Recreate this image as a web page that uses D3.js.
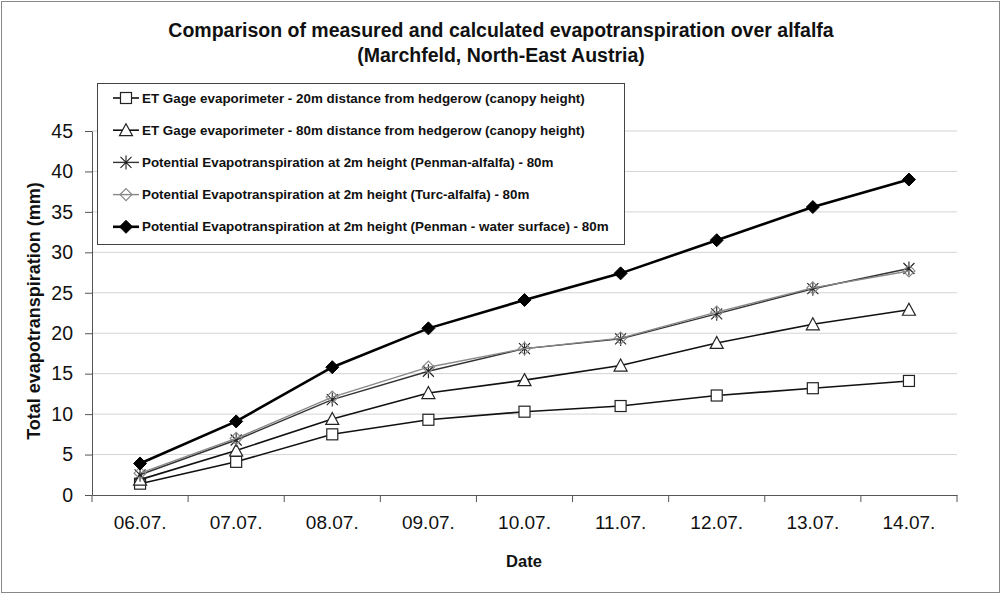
<!DOCTYPE html>
<html><head><meta charset="utf-8">
<script src="https://cdn.jsdelivr.net/npm/d3@7"></script>
<style>body{margin:0;background:#fff;} svg{display:block;font-family:Arial,"Liberation Sans",sans-serif;}</style>
</head><body>
<script>
const categories = ["06.07.","07.07.","08.07.","09.07.","10.07.","11.07.","12.07.","13.07.","14.07."];
const gage20 = [1.4, 4.1, 7.5, 9.3, 10.3, 11.0, 12.3, 13.2, 14.1];
const gage80 = [1.9, 5.5, 9.4, 12.6, 14.2, 16.0, 18.8, 21.1, 22.9];
const penmanAlfalfa = [2.5, 6.8, 11.8, 15.3, 18.1, 19.3, 22.4, 25.5, 28.0];
const turcAlfalfa = [2.7, 7.0, 12.1, 15.8, 18.1, 19.4, 22.6, 25.6, 27.7];
const penmanWater = [3.9, 9.1, 15.8, 20.6, 24.1, 27.4, 31.5, 35.6, 39.0];
const yTicks = [0,5,10,15,20,25,30,35,40,45];
const seriesNames = [
 "ET Gage evaporimeter - 20m distance from hedgerow (canopy height)",
 "ET Gage evaporimeter - 80m distance from hedgerow (canopy height)",
 "Potential Evapotranspiration at 2m height (Penman-alfalfa) - 80m",
 "Potential Evapotranspiration at 2m height (Turc-alfalfa) - 80m",
 "Potential Evapotranspiration at 2m height (Penman - water surface) - 80m"
];
const series = [
 {name: seriesNames[0], values: gage20, marker: "square", color: "#111", width: 1.6},
 {name: seriesNames[1], values: gage80, marker: "triangle", color: "#111", width: 1.6},
 {name: seriesNames[2], values: penmanAlfalfa, marker: "asterisk", color: "#333", width: 1.4},
 {name: seriesNames[3], values: turcAlfalfa, marker: "diamondOpen", color: "#888", width: 1.4},
 {name: seriesNames[4], values: penmanWater, marker: "diamondFilled", color: "#000", width: 2.6}
];

const W = 1002, H = 596;
const svg = d3.select("body").append("svg").attr("width", W).attr("height", H);
svg.append("rect").attr("x",1.5).attr("y",1.5).attr("width",998).attr("height",591)
  .attr("fill","#fff").attr("stroke","#888").attr("stroke-width",1);

const L = 92, R = 957, T = 131, B = 495;
const x = d3.scaleBand().domain(categories).range([L, R]).padding(0);
const y = d3.scaleLinear().domain([0,45]).range([B, T]);
const cx = c => x(c) + x.bandwidth()/2;

// gridlines
svg.append("g").selectAll("line").data(yTicks.filter(d=>d>0)).join("line")
  .attr("x1", L).attr("x2", R).attr("y1", d=>y(d)).attr("y2", d=>y(d))
  .attr("stroke", "#d4d4d4").attr("stroke-width", 1);

// y axis
const yAxis = svg.append("g").attr("transform", `translate(${L},0)`)
  .call(d3.axisLeft(y).tickValues(yTicks).tickSize(7).tickPadding(12).tickSizeOuter(0));
yAxis.select(".domain").attr("stroke","#555");
yAxis.selectAll(".tick line").attr("stroke","#555");
yAxis.selectAll("text").attr("font-size", 19.5).attr("fill","#111").attr("font-family","Arial, 'Liberation Sans', sans-serif");

// x axis
const xAxis = svg.append("g").attr("transform", `translate(0,${B})`)
  .call(d3.axisBottom(x).tickSize(0).tickPadding(21));
xAxis.select(".domain").attr("stroke","#555");
xAxis.selectAll("text").attr("font-size", 19).attr("fill","#111").attr("font-family","Arial, 'Liberation Sans', sans-serif");
svg.append("g").selectAll("line").data(categories.concat(["_end"])).join("line")
  .attr("x1", (d,i)=> L + i*x.bandwidth()).attr("x2", (d,i)=> L + i*x.bandwidth())
  .attr("y1", B).attr("y2", B+7).attr("stroke","#555");

// axis titles
svg.append("text").attr("x", 524).attr("y", 567).attr("text-anchor","middle")
  .attr("font-size", 16.5).attr("font-weight","bold").attr("fill","#111").text("Date");
svg.append("text").attr("transform","translate(40,311) rotate(-90)").attr("text-anchor","middle")
  .attr("font-size", 18).attr("font-weight","bold").attr("fill","#111").text("Total evapotranspiration (mm)");

// title
svg.append("text").attr("x", 501).attr("y", 37).attr("text-anchor","middle")
  .attr("font-size", 19.5).attr("font-weight","bold").attr("fill","#111")
  .text("Comparison of measured and calculated evapotranspiration over alfalfa");
svg.append("text").attr("x", 501).attr("y", 62).attr("text-anchor","middle")
  .attr("font-size", 19.5).attr("font-weight","bold").attr("fill","#111")
  .text("(Marchfeld, North-East Austria)");

function drawMarker(g, type, px, py, color) {
  const s = 5.5;
  if (type === "square") {
    g.append("rect").attr("x",px-s).attr("y",py-s).attr("width",2*s).attr("height",2*s)
      .attr("fill","#fff").attr("stroke","#222").attr("stroke-width",1.2);
  } else if (type === "triangle") {
    g.append("path").attr("d",`M${px},${py-6.5}L${px+6.5},${py+5.5}L${px-6.5},${py+5.5}Z`)
      .attr("fill","#fff").attr("stroke","#222").attr("stroke-width",1.2);
  } else if (type === "asterisk") {
    const p = `M${px-5.5},${py-5.5}L${px+5.5},${py+5.5}M${px+5.5},${py-5.5}L${px-5.5},${py+5.5}M${px},${py-7}L${px},${py+7}`;
    g.append("path").attr("d",p).attr("fill","none").attr("stroke","#222").attr("stroke-width",1.1);
  } else if (type === "diamondOpen") {
    g.append("path").attr("d",`M${px},${py-6}L${px+6},${py}L${px},${py+6}L${px-6},${py}Z`)
      .attr("fill","none").attr("stroke","#888").attr("stroke-width",1.2);
  } else if (type === "diamondFilled") {
    g.append("path").attr("d",`M${px},${py-6.5}L${px+6.5},${py}L${px},${py+6.5}L${px-6.5},${py}Z`)
      .attr("fill","#000").attr("stroke","#000").attr("stroke-width",1);
  }
}

const line = d3.line().x((d,i)=>cx(categories[i])).y(d=>y(d));
series.forEach(s => {
  const g = svg.append("g");
  g.append("path").attr("d", line(s.values)).attr("fill","none")
    .attr("stroke", s.color).attr("stroke-width", s.width);
  s.values.forEach((v,i) => drawMarker(g, s.marker, cx(categories[i]), y(v), s.color));
});

// legend
const lg = svg.append("g");
lg.append("rect").attr("x",97.5).attr("y",83.5).attr("width",527).attr("height",161)
  .attr("fill","#fff").attr("stroke","#444").attr("stroke-width",1);
series.forEach((s,i) => {
  const ly = 98 + i*32.2;
  const g = lg.append("g");
  g.append("line").attr("x1",113).attr("x2",139).attr("y1",ly).attr("y2",ly)
    .attr("stroke", s.color).attr("stroke-width", s.width);
  drawMarker(g, s.marker, 126, ly, s.color);
  g.append("text").attr("x",142).attr("y",ly+4.5).attr("font-size",13.4).attr("font-weight","bold")
    .attr("fill","#111").text(s.name);
});
</script>
</body></html>
